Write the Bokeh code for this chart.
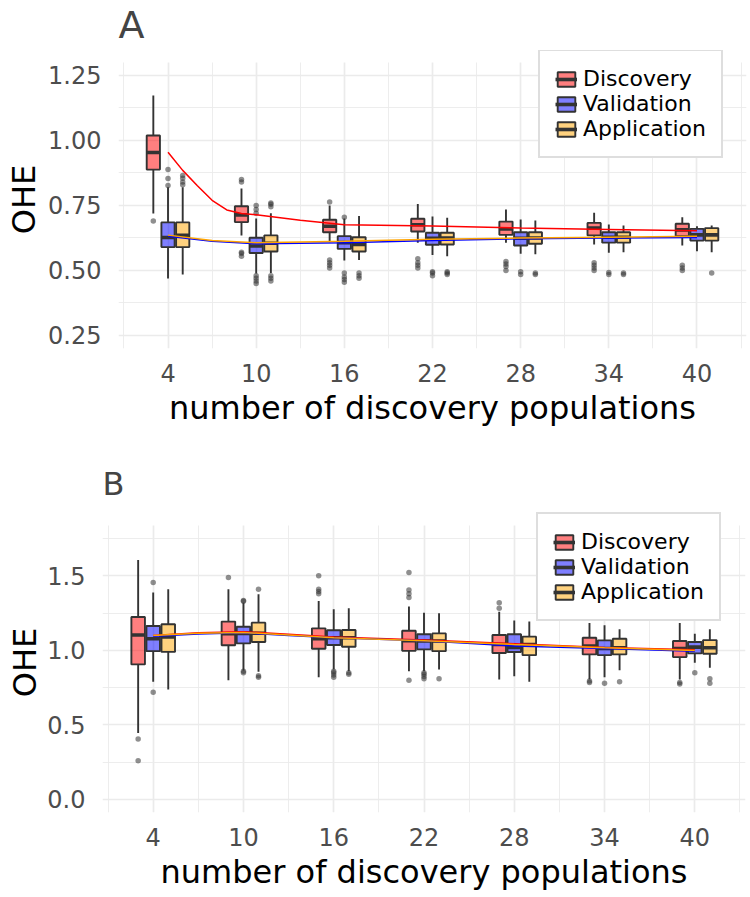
from bokeh.plotting import figure
from bokeh.models import (ColumnDataSource, FixedTicker, Range1d, Legend, LegendItem,
                          NumeralTickFormatter)
from bokeh.layouts import column
from bokeh.transform import dodge
from bokeh.embed import file_html
from bokeh.resources import INLINE

# ---------------- data ----------------
groups = [4, 10, 16, 22, 28, 34, 40]
series = ["Discovery", "Validation", "Application"]
colors = {"Discovery": "#FF0000", "Validation": "#0000FF", "Application": "#FFA500"}
offsets = {"Discovery": -1, "Validation": 0, "Application": 1}

# Panel A box statistics (lower whisker, q1, median, q3, upper whisker)
A_disc_lo  = [0.719, 0.635, 0.609, 0.607, 0.607, 0.600, 0.596]
A_disc_q1  = [0.888, 0.686, 0.647, 0.650, 0.637, 0.635, 0.632]
A_disc_med = [0.954, 0.714, 0.670, 0.676, 0.660, 0.663, 0.656]
A_disc_q3  = [1.019, 0.747, 0.695, 0.699, 0.688, 0.683, 0.680]
A_disc_hi  = [1.173, 0.815, 0.750, 0.756, 0.735, 0.722, 0.705]
A_disc_out = [[0.69], [0.84, 0.85, 0.555, 0.565, 0.57], [0.763, 0.51, 0.52, 0.53, 0.54],
              [0.51, 0.52, 0.53, 0.545], [0.50, 0.515, 0.525, 0.535],
              [0.50, 0.51, 0.52, 0.53], [0.50, 0.51, 0.52]]

A_val_lo  = [0.469, 0.488, 0.538, 0.560, 0.564, 0.568, 0.574]
A_val_q1  = [0.590, 0.567, 0.583, 0.599, 0.596, 0.607, 0.615]
A_val_med = [0.627, 0.594, 0.607, 0.624, 0.624, 0.628, 0.637]
A_val_q3  = [0.685, 0.626, 0.632, 0.645, 0.647, 0.647, 0.660]
A_val_hi  = [0.820, 0.700, 0.700, 0.708, 0.696, 0.677, 0.670]
A_val_out = [[0.827, 0.854, 0.888], [0.72, 0.735, 0.75, 0.45, 0.46, 0.47, 0.48],
             [0.705, 0.455, 0.465, 0.475, 0.49], [0.48, 0.49, 0.495], [0.485, 0.495],
             [0.485, 0.492], []]

A_app_lo  = [0.485, 0.490, 0.540, 0.555, 0.562, 0.570, 0.570]
A_app_q1  = [0.590, 0.573, 0.573, 0.600, 0.603, 0.607, 0.615]
A_app_med = [0.635, 0.605, 0.600, 0.625, 0.625, 0.628, 0.637]
A_app_q3  = [0.685, 0.635, 0.628, 0.645, 0.647, 0.647, 0.663]
A_app_hi  = [0.820, 0.720, 0.710, 0.703, 0.692, 0.673, 0.673]
A_app_out = [[0.83, 0.84, 0.855, 0.865], [0.745, 0.755, 0.76, 0.46, 0.47, 0.48],
             [0.47, 0.48, 0.49], [0.485, 0.49, 0.495], [0.485, 0.49], [0.485, 0.49], [0.49]]

# Panel B box statistics
B_disc_lo  = [0.445, 0.800, 0.820, 0.860, 0.805, 0.805, 0.805]
B_disc_q1  = [0.906, 1.034, 1.011, 0.997, 0.982, 0.973, 0.955]
B_disc_med = [1.103, 1.112, 1.078, 1.065, 1.040, 1.029, 1.013]
B_disc_q3  = [1.224, 1.193, 1.148, 1.132, 1.103, 1.085, 1.063]
B_disc_hi  = [1.606, 1.410, 1.332, 1.294, 1.260, 1.184, 1.184]
B_disc_out = [[0.405, 0.26], [1.489], [1.38, 1.395, 1.41, 1.50],
              [1.354, 1.38, 1.405, 1.523, 0.80], [1.283, 1.32], [0.785, 0.795], [0.775, 0.785]]

B_val_lo  = [0.789, 0.865, 0.872, 0.860, 0.827, 0.820, 0.917]
B_val_q1  = [0.995, 1.047, 1.036, 1.007, 0.989, 0.968, 0.980]
B_val_med = [1.078, 1.114, 1.085, 1.063, 1.020, 1.013, 1.022]
B_val_q3  = [1.164, 1.159, 1.135, 1.108, 1.108, 1.067, 1.056]
B_val_hi  = [1.388, 1.320, 1.276, 1.253, 1.200, 1.168, 1.112]
B_val_out = [[1.455, 0.72], [1.33, 1.335, 0.85, 0.86], [0.82, 0.835, 0.85, 0.86],
             [0.81, 0.825, 0.84, 0.85], [], [0.78], [0.85]]

B_app_lo  = [0.737, 0.856, 0.860, 0.872, 0.790, 0.867, 0.883]
B_app_q1  = [0.990, 1.056, 1.024, 0.995, 0.968, 0.973, 0.977]
B_app_med = [1.090, 1.115, 1.085, 1.063, 1.040, 1.018, 1.018]
B_app_q3  = [1.175, 1.186, 1.137, 1.114, 1.092, 1.078, 1.069]
B_app_hi  = [1.410, 1.377, 1.283, 1.249, 1.193, 1.141, 1.141]
B_app_out = [[], [1.41, 0.82, 0.83], [0.84, 0.85], [0.81], [], [0.79], [0.78, 0.81]]

# smoothed trend lines
A_red_x = [4, 5, 6, 7, 8, 9, 10, 13, 16, 22, 28, 34, 40]
A_red_y = [0.955, 0.885, 0.826, 0.770, 0.733, 0.719, 0.714, 0.693, 0.676, 0.671, 0.663, 0.658, 0.653]
A_other_x = [4, 7, 10, 16, 22, 28, 34, 40]
A_blue_y = [0.632, 0.612, 0.603, 0.607, 0.615, 0.622, 0.625, 0.627]
A_orange_y = [0.636, 0.615, 0.607, 0.612, 0.620, 0.625, 0.628, 0.632]

B_line_x = [4, 7, 10, 13, 16, 22, 28, 34, 40]
B_red_y = [1.100, 1.118, 1.125, 1.108, 1.090, 1.070, 1.045, 1.020, 1.005]
B_blue_y = [1.095, 1.110, 1.118, 1.100, 1.085, 1.065, 1.030, 1.013, 0.995]
B_orange_y = [1.100, 1.115, 1.120, 1.103, 1.085, 1.065, 1.040, 1.018, 1.000]

x_major = [4, 10, 16, 22, 28, 34, 40]
x_minor = [1, 7, 13, 19, 25, 31, 37, 43]
A_y_major = [0.25, 0.5, 0.75, 1.0, 1.25]
A_y_minor = [0.375, 0.625, 0.875, 1.125]
B_y_major = [0.0, 0.5, 1.0, 1.5]
B_y_minor = [0.25, 0.75, 1.25, 1.75]

FONT = "DejaVu Sans"
DARK = "#333333"
GRID = "#EBEBEB"
X_RANGE = (0.63, 43.37)


def make_panel(stats, outs, lines, y_range, panel_top, y_major, y_minor, fmt,
               frame_w, frame_h, left, top, bottom, right, legend_loc, y_lab_std):
    # the frame reaches a little above the panel so the legend box is not cut;
    # grid lines are kept to the panel area with cross_bounds
    p = figure(frame_width=frame_w, frame_height=frame_h,
               x_range=Range1d(*X_RANGE), y_range=Range1d(y_range[0], panel_top),
               output_backend="svg", toolbar_location=None,
               min_border_left=left, min_border_top=top,
               min_border_right=right, min_border_bottom=bottom)
    try:
        p.frame_align = False
    except Exception:
        pass
    p.outline_line_color = None
    p.background_fill_color = "white"
    p.border_fill_color = "white"

    p.xaxis.ticker = FixedTicker(ticks=x_major, minor_ticks=x_minor)
    p.yaxis.ticker = FixedTicker(ticks=y_major, minor_ticks=y_minor)
    p.yaxis.formatter = NumeralTickFormatter(format=fmt)
    for g in list(p.xgrid) + list(p.ygrid):
        g.grid_line_color = GRID
        g.grid_line_width = 1.7
        g.minor_grid_line_color = GRID
        g.minor_grid_line_width = 0.9
    for g in p.xgrid:
        try:
            g.cross_bounds = (y_range[0], y_range[1])
        except Exception:
            pass
    for ax in (p.xaxis, p.yaxis):
        ax.axis_line_color = None
        ax.major_tick_line_color = None
        ax.minor_tick_line_color = None
        ax.major_tick_out = 0
        ax.major_tick_in = 0
        ax.minor_tick_out = 0
        ax.minor_tick_in = 0
        ax.major_label_text_font = FONT
        ax.major_label_text_font_size = "24px"
        ax.major_label_text_color = "#4D4D4D"
        ax.axis_label_text_font = FONT
        ax.axis_label_text_font_size = "32px"
        ax.axis_label_text_font_style = "normal"
        ax.axis_label_text_color = "black"
    p.xaxis.axis_label = "number of discovery populations"
    p.yaxis.axis_label = "OHE"
    p.xaxis.major_label_standoff = 15
    p.xaxis.axis_label_standoff = 4
    p.yaxis.major_label_standoff = 17
    p.yaxis.axis_label_standoff = y_lab_std

    items = []
    for s in series:
        off = offsets[s]
        lo, q1, med, q3, hi = stats[s]
        src = ColumnDataSource(dict(grp=groups, lo=lo, q1=q1, med=med, q3=q3, hi=hi))
        ox, oy = [], []
        for g, vals in zip(groups, outs[s]):
            for v in vals:
                ox.append(g)
                oy.append(v)
        osrc = ColumnDataSource(dict(grp=ox, val=oy))
        p.scatter(x=dodge("grp", off), y="val", source=osrc, size=5.5,
                  fill_color=DARK, line_color=None, fill_alpha=0.55)
        p.segment(x0=dodge("grp", off), y0="lo", x1=dodge("grp", off), y1="q1",
                  source=src, line_color=DARK, line_width=1.9)
        p.segment(x0=dodge("grp", off), y0="q3", x1=dodge("grp", off), y1="hi",
                  source=src, line_color=DARK, line_width=1.9)
        box = p.vbar(x=dodge("grp", off), width=0.9, top="q3", bottom="q1", source=src,
                     fill_color=colors[s], fill_alpha=0.5, line_color=DARK, line_width=1.9)
        med_r = p.segment(x0=dodge("grp", off - 0.45), y0="med",
                          x1=dodge("grp", off + 0.45), y1="med",
                          source=src, line_color=DARK, line_width=3.6)
        items.append(LegendItem(label=s, renderers=[box, med_r]))

    for (lx, ly, col) in lines:
        p.line(lx, ly, line_color=col, line_width=1.5)

    legend = Legend(items=items, location=legend_loc)
    legend.label_text_font = FONT
    legend.label_text_font_size = "22px"
    legend.label_text_color = "black"
    legend.padding = 15
    legend.spacing = 0
    legend.margin = 0
    legend.glyph_width = 22
    legend.glyph_height = 18
    legend.label_standoff = 6
    legend.border_line_color = "#BEBEBE"
    legend.border_line_width = 2
    legend.background_fill_color = "white"
    legend.background_fill_alpha = 1.0
    p.add_layout(legend)
    return p


statsA = {"Discovery": (A_disc_lo, A_disc_q1, A_disc_med, A_disc_q3, A_disc_hi),
          "Validation": (A_val_lo, A_val_q1, A_val_med, A_val_q3, A_val_hi),
          "Application": (A_app_lo, A_app_q1, A_app_med, A_app_q3, A_app_hi)}
outsA = {"Discovery": A_disc_out, "Validation": A_val_out, "Application": A_app_out}
linesA = [(A_red_x, A_red_y, "#FF0000"), (A_other_x, A_blue_y, "#0000FF"),
          (A_other_x, A_orange_y, "#FFA500")]

statsB = {"Discovery": (B_disc_lo, B_disc_q1, B_disc_med, B_disc_q3, B_disc_hi),
          "Validation": (B_val_lo, B_val_q1, B_val_med, B_val_q3, B_val_hi),
          "Application": (B_app_lo, B_app_q1, B_app_med, B_app_q3, B_app_hi)}
outsB = {"Discovery": B_disc_out, "Validation": B_val_out, "Application": B_app_out}
linesB = [(B_line_x, B_red_y, "#FF0000"), (B_line_x, B_blue_y, "#0000FF"),
          (B_line_x, B_orange_y, "#FFA500")]

pA = make_panel(statsA, outsA, linesA, (0.2, 1.3), 1.346, A_y_major, A_y_minor, "0.00",
                628, 298, 118, 50, 90, 4, (420, 190), 2)
pB = make_panel(statsB, outsB, linesB, (-0.0875, 1.8375), 1.925, B_y_major, B_y_minor, "0.0",
                643, 300, 102, 74, 0, 5, (434, 191), 0)

# panel letters as plot titles
pA.title.text = "A"
pA.title.text_font = FONT
pA.title.text_font_size = "38px"
pA.title.text_font_style = "normal"
pA.title.align = "left"
pA.title.offset = 0
pA.title.vertical_align = "top"
pA.title.standoff = 3

pB.title.text = "B"
pB.title.text_font = FONT
pB.title.text_font_size = "32px"
pB.title.text_font_style = "normal"
pB.title.align = "left"
pB.title.offset = 0
pB.title.vertical_align = "bottom"
pB.title.standoff = 20

layout = column(pA, pB, spacing=0)
open("out.html", "w").write(file_html(layout, INLINE))
